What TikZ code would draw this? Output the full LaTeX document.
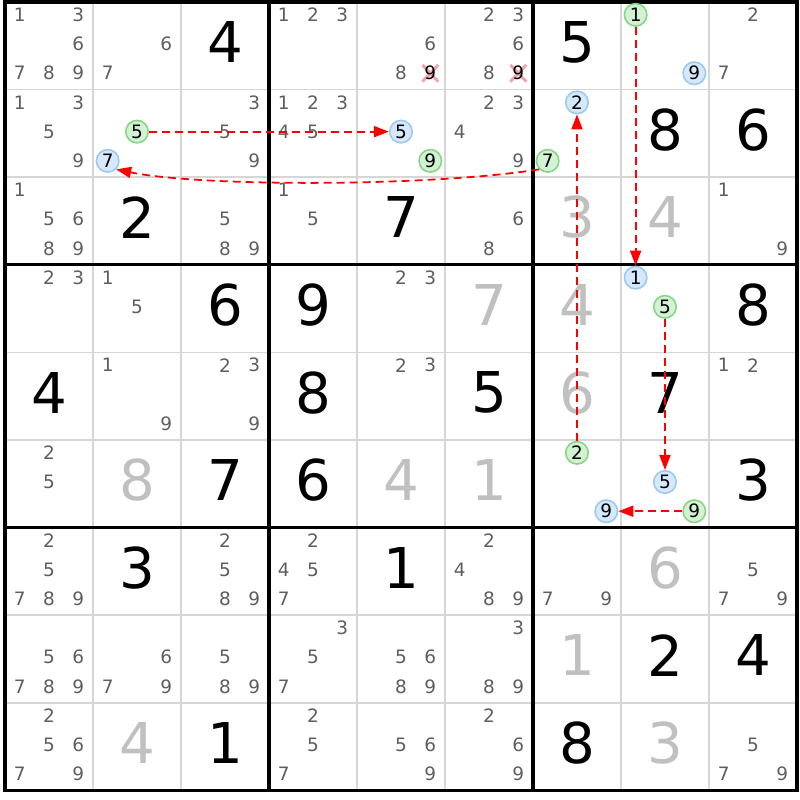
\documentclass[tikz,border=0pt]{standalone}
\usepackage{fontspec}
\setmainfont{DejaVu Sans}
\usetikzlibrary{arrows.meta}

\definecolor{candgray}{HTML}{5E5E5E}
\definecolor{solvedgray}{HTML}{C0C0C0}
\definecolor{gridgray}{HTML}{D6D6D6}
\definecolor{ringgreenfill}{HTML}{D3F2D3}
\definecolor{ringgreen}{HTML}{86D686}
\definecolor{ringbluefill}{HTML}{D5E8FC}
\definecolor{ringblue}{HTML}{9CC9F2}
\definecolor{strikepink}{HTML}{F5A3AA}

\newcommand{\cands}[3]{%
  \foreach \dg in {#3} {\node[cand] at ({#2-1+(mod(\dg-1,3)+0.5)/3},{#1-1+(int((\dg-1)/3)+0.5)/3-0.02}) {\dg};}}
\newcommand{\ring}[5]{%
  \node[#1] (#2) at ({#4-1+(mod(#5-1,3)+0.5)/3},{#3-1+(int((#5-1)/3)+0.5)/3-0.02}) {#5};}
\newcommand{\struck}[3]{%
  \coordinate (s) at ({#2-1+(mod(#3-1,3)+0.5)/3},{#1-1+(int((#3-1)/3)+0.5)/3-0.02});
  \draw[strike] (s) ++(-0.09,-0.095) -- ++(0.18,0.19) (s) ++(0.09,-0.095) -- ++(-0.18,0.19);
  \node[cand, text=black] at (s) {#3};}
\newcommand{\givencell}[3]{\node[givendigit] at ({#2-0.5},{#1-0.54}) {#3};}
\newcommand{\solvedcell}[3]{\node[solveddigit] at ({#2-0.5},{#1-0.54}) {#3};}

\begin{document}
\begin{tikzpicture}[x=1.76cm, y=-1.752cm,
    cand/.style={text=candgray, font=\fontsize{10.5}{10.5}\selectfont, inner sep=0pt},
    givendigit/.style={font=\fontsize{32}{32}\selectfont, inner sep=0pt},
    solveddigit/.style={givendigit, text=solvedgray},
    greenring/.style={circle, draw=ringgreen, fill=ringgreenfill, line width=0.9pt,
      minimum size=0.45cm, inner sep=0pt, font=\fontsize{10.5}{10.5}\selectfont},
    bluering/.style={greenring, draw=ringblue, fill=ringbluefill},
    strike/.style={strikepink, line width=1.7pt},
    link/.style={red, line width=1pt, dash pattern=on 0.16cm off 0.1cm,
      -{Triangle[length=0.3cm, width=0.22cm]}}]
  \useasboundingbox (-0.0568,-0.0228) rectangle (9.034,9.110);

  \foreach \i in {1,2,4,5,7,8} {
    \draw[gridgray, line width=1pt] (\i,0) -- (\i,9);
    \draw[gridgray, line width=1pt] (0,\i) -- (9,\i);
  }
  \foreach \i in {3,6} {
    \draw[line width=1.8pt] (\i,0) -- (\i,9);
    \draw[line width=1.8pt] (0,\i) -- (9,\i);
  }
  \draw[line width=1.8pt] (0,0) rectangle (9,9);

  % row 1
  \cands{1}{1}{1,3,6,7,8,9}
  \cands{1}{2}{6,7}
  \givencell{1}{3}{4}
  \cands{1}{4}{1,2,3}
  \cands{1}{5}{6,8}
  \struck{1}{5}{9}
  \cands{1}{6}{2,3,6,8}
  \struck{1}{6}{9}
  \givencell{1}{7}{5}
  \ring{greenring}{g18}{1}{8}{1}
  \ring{bluering}{b18}{1}{8}{9}
  \cands{1}{9}{2,7}

  % row 2
  \cands{2}{1}{1,3,5,9}
  \ring{greenring}{g22}{2}{2}{5}
  \ring{bluering}{b22}{2}{2}{7}
  \cands{2}{3}{3,5,9}
  \cands{2}{4}{1,2,3,4,5}
  \ring{bluering}{b25}{2}{5}{5}
  \ring{greenring}{g25}{2}{5}{9}
  \cands{2}{6}{2,3,4,9}
  \ring{bluering}{b27}{2}{7}{2}
  \ring{greenring}{g27}{2}{7}{7}
  \givencell{2}{8}{8}
  \givencell{2}{9}{6}

  % row 3
  \cands{3}{1}{1,5,6,8,9}
  \givencell{3}{2}{2}
  \cands{3}{3}{5,8,9}
  \cands{3}{4}{1,5}
  \givencell{3}{5}{7}
  \cands{3}{6}{6,8}
  \solvedcell{3}{7}{3}
  \solvedcell{3}{8}{4}
  \cands{3}{9}{1,9}

  % row 4
  \cands{4}{1}{2,3}
  \cands{4}{2}{1,5}
  \givencell{4}{3}{6}
  \givencell{4}{4}{9}
  \cands{4}{5}{2,3}
  \solvedcell{4}{6}{7}
  \solvedcell{4}{7}{4}
  \ring{bluering}{b48}{4}{8}{1}
  \ring{greenring}{g48}{4}{8}{5}
  \givencell{4}{9}{8}

  % row 5
  \givencell{5}{1}{4}
  \cands{5}{2}{1,9}
  \cands{5}{3}{2,3,9}
  \givencell{5}{4}{8}
  \cands{5}{5}{2,3}
  \givencell{5}{6}{5}
  \solvedcell{5}{7}{6}
  \givencell{5}{8}{7}
  \cands{5}{9}{1,2}

  % row 6
  \cands{6}{1}{2,5}
  \solvedcell{6}{2}{8}
  \givencell{6}{3}{7}
  \givencell{6}{4}{6}
  \solvedcell{6}{5}{4}
  \solvedcell{6}{6}{1}
  \ring{greenring}{g67}{6}{7}{2}
  \ring{bluering}{b67}{6}{7}{9}
  \ring{bluering}{b68}{6}{8}{5}
  \ring{greenring}{g68}{6}{8}{9}
  \givencell{6}{9}{3}

  % row 7
  \cands{7}{1}{2,5,7,8,9}
  \givencell{7}{2}{3}
  \cands{7}{3}{2,5,8,9}
  \cands{7}{4}{2,4,5,7}
  \givencell{7}{5}{1}
  \cands{7}{6}{2,4,8,9}
  \cands{7}{7}{7,9}
  \solvedcell{7}{8}{6}
  \cands{7}{9}{5,7,9}

  % row 8
  \cands{8}{1}{5,6,7,8,9}
  \cands{8}{2}{6,7,9}
  \cands{8}{3}{5,8,9}
  \cands{8}{4}{3,5,7}
  \cands{8}{5}{5,6,8,9}
  \cands{8}{6}{3,8,9}
  \solvedcell{8}{7}{1}
  \givencell{8}{8}{2}
  \givencell{8}{9}{4}

  % row 9
  \cands{9}{1}{2,5,6,7,9}
  \solvedcell{9}{2}{4}
  \givencell{9}{3}{1}
  \cands{9}{4}{2,5,7}
  \cands{9}{5}{5,6,9}
  \cands{9}{6}{2,6,9}
  \givencell{9}{7}{8}
  \solvedcell{9}{8}{3}
  \cands{9}{9}{5,7,9}

  % chain
  \draw[link] (g22) -- (b25);
  \draw[link] (g27.south west) .. controls +(-1.25,0.2) and +(0.96,0.2) .. (b22.south east);
  \draw[link] (g18) -- (b48);
  \draw[link] (g67) -- (b27);
  \draw[link] (g48) -- (b68);
  \draw[link] (g68) -- (b67);
\end{tikzpicture}
\end{document}
